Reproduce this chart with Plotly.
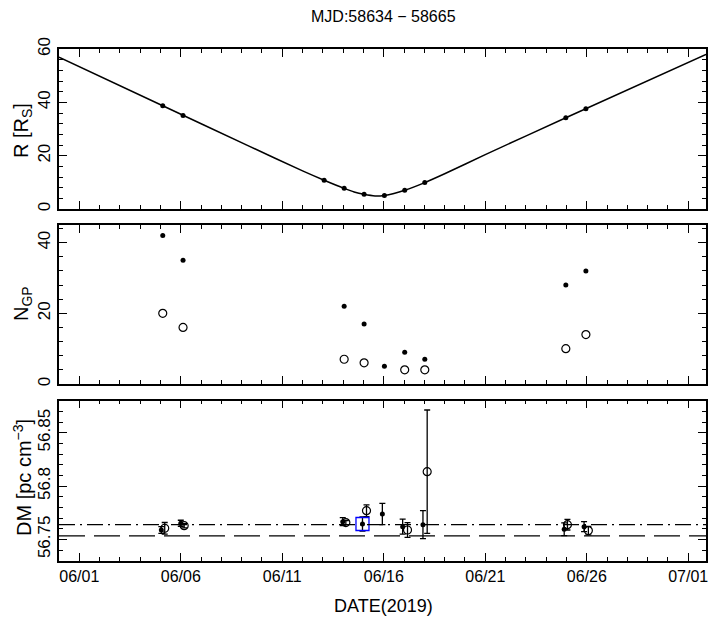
import plotly.graph_objects as go
from plotly.subplots import make_subplots

# ---------------- data ----------------
title_text = "MJD:58634 \u2212 58665"

# observation epochs (top panel dots)
obs_dates = ["2019-06-05 02:40", "2019-06-06 02:40", "2019-06-13 01:30", "2019-06-14 01:10",
             "2019-06-15 00:45", "2019-06-16 00:45", "2019-06-17 00:45", "2019-06-18 00:30",
             "2019-06-24 23:15", "2019-06-25 23:00"]
r_obs = [38.7, 35.1, 10.8, 7.75, 5.5, 5.1, 7.0, 9.9, 34.2, 37.6]

# solar elongation curve
curve_dates = ["2019-05-31 00:00", "2019-06-05 02:40", "2019-06-09 08:40", "2019-06-12 00:00",
               "2019-06-13 01:30", "2019-06-14 01:10", "2019-06-14 13:00", "2019-06-15 00:45",
               "2019-06-15 13:40", "2019-06-16 00:45", "2019-06-16 12:00", "2019-06-17 00:45",
               "2019-06-18 00:30", "2019-06-19 00:00", "2019-06-21 00:00", "2019-06-24 23:15",
               "2019-07-01 21:00"]
curve_r = [56.9, 38.7, 23.6, 14.3, 10.8, 7.75, 6.4, 5.5, 4.9, 5.1, 5.8, 7.0,
           9.9, 13.2, 20.4, 34.2, 58.0]

# number of giant pulses
ngp_filled_dates = ["2019-06-05 02:40", "2019-06-06 02:40", "2019-06-14 01:10", "2019-06-15 00:45",
                    "2019-06-16 00:45", "2019-06-17 00:45", "2019-06-18 00:30", "2019-06-24 23:15",
                    "2019-06-25 23:00"]
ngp_filled = [42, 35, 22, 17, 5, 9, 7, 28, 32]
ngp_open_dates = ["2019-06-05 02:40", "2019-06-06 02:40", "2019-06-14 01:10", "2019-06-15 00:45",
                  "2019-06-17 00:45", "2019-06-18 00:30", "2019-06-24 23:15", "2019-06-25 23:00"]
ngp_open = [20, 16, 7, 6, 4, 4, 10, 14]

# dispersion measure
dm_filled_dates = ["2019-06-05 01:00", "2019-06-06 00:00", "2019-06-13 23:30", "2019-06-14 22:50",
                   "2019-06-15 22:20", "2019-06-16 22:20", "2019-06-17 22:20", "2019-06-24 21:20",
                   "2019-06-25 20:50"]
dm_filled = [56.7588, 56.7651, 56.7666, 56.7644, 56.7738, 56.7619, 56.7638, 56.7595, 56.7619]
dm_filled_err = [0.0031, 0.0028, 0.0037, 0.0067, 0.0100, 0.0070, 0.0131, 0.0060, 0.0047]
dm_open_dates = ["2019-06-05 05:00", "2019-06-06 04:00", "2019-06-14 03:10", "2019-06-15 03:35",
                 "2019-06-17 04:05", "2019-06-18 03:20", "2019-06-25 01:10", "2019-06-26 01:55"]
dm_open = [56.7604, 56.7628, 56.7657, 56.7769, 56.7588, 56.8135, 56.7638, 56.7582]
dm_open_err = [0.0054, 0.0020, 0.0020, 0.0055, 0.0069, 0.0578, 0.0050, 0.0040]
dm_box_date = ["2019-06-14 22:50"]
dm_box = [56.7644]
dm_ref_dashdot = 56.7638
dm_ref_dashed = 56.7532

x_range = ["2019-05-31 00:00", "2019-07-01 21:00"]
x_tick_labels_start = "2019-06-01"

# ---------------- figure ----------------
W, H = 709, 619
ML, MR, MT, MB = 59, 3, 49, 58
PH = H - MT - MB
PW = W - ML - MR

fig = make_subplots(rows=3, cols=1, shared_xaxes=True)

fig.add_trace(go.Scatter(x=curve_dates, y=curve_r, mode="lines",
                         line=dict(color="black", width=1.5, shape="spline", smoothing=0.6),
                         showlegend=False), row=1, col=1)
fig.add_trace(go.Scatter(x=obs_dates, y=r_obs, mode="markers",
                         marker=dict(color="black", size=5), showlegend=False), row=1, col=1)

fig.add_trace(go.Scatter(x=ngp_filled_dates, y=ngp_filled, mode="markers",
                         marker=dict(color="black", size=5), showlegend=False), row=2, col=1)
fig.add_trace(go.Scatter(x=ngp_open_dates, y=ngp_open, mode="markers",
                         marker=dict(symbol="circle-open", color="black", size=8,
                                     line=dict(width=1.2)), showlegend=False), row=2, col=1)

eb = dict(type="data", visible=True, color="black", thickness=1.3, width=3)
fig.add_trace(go.Scatter(x=dm_filled_dates, y=dm_filled, mode="markers",
                         error_y=dict(array=dm_filled_err, **eb),
                         marker=dict(color="black", size=5), showlegend=False), row=3, col=1)
fig.add_trace(go.Scatter(x=dm_open_dates, y=dm_open, mode="markers",
                         error_y=dict(array=dm_open_err, **eb),
                         marker=dict(symbol="circle-open", color="black", size=8,
                                     line=dict(width=1.2)), showlegend=False), row=3, col=1)
fig.add_trace(go.Scatter(x=dm_box_date, y=dm_box, mode="markers",
                         marker=dict(symbol="square-open", color="blue", size=13,
                                     line=dict(width=1.3)), showlegend=False), row=3, col=1)

fig.add_shape(type="line", xref="x3 domain", yref="y3", x0=0, x1=1,
              y0=dm_ref_dashdot, y1=dm_ref_dashdot,
              line=dict(color="black", width=1.3, dash="16px,5px,2px,5px"))
fig.add_shape(type="line", xref="x3 domain", yref="y3", x0=0, x1=1,
              y0=dm_ref_dashed, y1=dm_ref_dashed,
              line=dict(color="black", width=1.3, dash="26px,9px"))

font_family = "Liberation Sans, Arial, sans-serif"
axis_common = dict(showline=True, linecolor="black", linewidth=1.5, mirror="allticks",
                   ticks="inside", ticklen=8, tickwidth=1.3, tickcolor="black",
                   showgrid=False, zeroline=False)

for i in (1, 2, 3):
    key = "xaxis" if i == 1 else f"xaxis{i}"
    fig.layout[key].update(
        type="date", range=x_range, tick0=x_tick_labels_start, dtick=5 * 86400000,
        tickformat="%m/%d", showticklabels=(i == 3),
        tickfont=dict(family=font_family, size=16, color="black"),
        minor=dict(ticks="inside", ticklen=4, tickwidth=1.2, tickcolor="black", dtick=86400000,
                   showgrid=False),
        **axis_common)

def dom(top_px, bot_px):
    return [(H - MB - bot_px) / PH, (H - MB - top_px) / PH]

ytf = dict(family=font_family, size=17, color="black")
fig.layout.yaxis.update(domain=dom(49, 209), range=[0, 60], dtick=20, tick0=0, tickangle=-90,
                        tickfont=ytf,
                        minor=dict(ticks="inside", ticklen=4, tickwidth=1.2, tickcolor="black",
                                   dtick=4, showgrid=False), **axis_common)
fig.layout.yaxis2.update(domain=dom(225, 384), range=[0, 45], dtick=20, tick0=0, tickangle=-90,
                         tickfont=ytf,
                         minor=dict(ticks="inside", ticklen=4, tickwidth=1.2, tickcolor="black",
                                    dtick=4, showgrid=False), **axis_common)
fig.layout.yaxis3.update(domain=dom(400.7, 560.7), range=[56.73, 56.88], dtick=0.05, tick0=56.75,
                         tickangle=-90, tickfont=ytf,
                         minor=dict(ticks="inside", ticklen=4, tickwidth=1.2, tickcolor="black",
                                    dtick=0.01, showgrid=False), **axis_common)

def px_x(px):
    return (px - ML) / PW

def px_y(py):
    return (H - MB - py) / PH

lab_font = dict(family=font_family, size=20, color="black")
annos = [
    dict(text=title_text, x=px_x(383), y=px_y(16), font=dict(family=font_family, size=16, color="black"),
         textangle=0),
    dict(text="R [R<sub>S</sub>]", x=px_x(22), y=px_y(131), font=lab_font, textangle=-90),
    dict(text="N<sub>GP</sub>", x=px_x(22), y=px_y(304), font=lab_font, textangle=-90),
    dict(text="DM [pc cm<sup>\u22123</sup>]", x=px_x(22), y=px_y(478), font=lab_font, textangle=-90),
    dict(text="DATE(2019)", x=px_x(383), y=px_y(606), font=dict(family=font_family, size=18, color="black"),
         textangle=0),
]
for a in annos:
    fig.add_annotation(xref="paper", yref="paper", showarrow=False,
                       xanchor="center", yanchor="middle", **a)

fig.update_layout(width=W, height=H, margin=dict(l=ML, r=MR, t=MT, b=MB, autoexpand=False),
                  plot_bgcolor="white", paper_bgcolor="white", showlegend=False)

fig.write_html("out.html")
